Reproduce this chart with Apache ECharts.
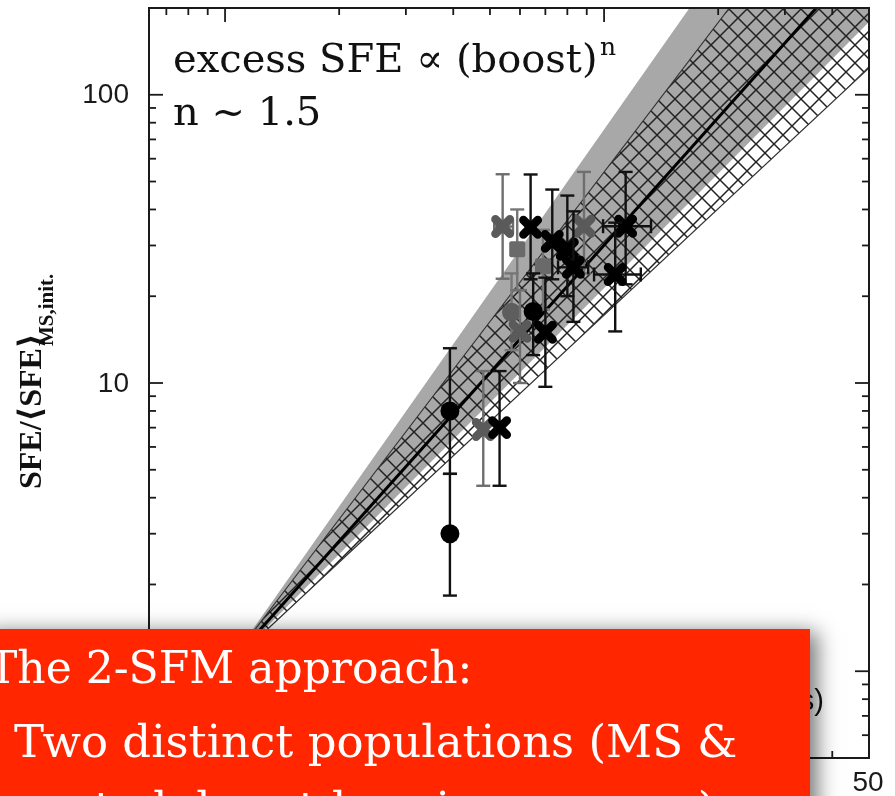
<!DOCTYPE html>
<html>
<head>
<meta charset="utf-8">
<script src="https://cdn.jsdelivr.net/npm/echarts@6/dist/echarts.min.js"></script>
<style>
  html, body { margin: 0; padding: 0; background: #ffffff; }
  #chart { width: 895px; height: 796px; }
</style>
</head>
<body>
<div id="chart"></div>
<script>
// ---- axis extents and ticks (log-log) ----
const xRange = [0.63, 50];
const yRange = [0.5, 200];
const xMajorTicks = [1, 10];
const xMinorTicks = [0.7, 0.8, 0.9, 2, 3, 4, 5, 6, 7, 8, 9, 20, 30, 40];
const xTickLabels = [[1, '1'], [10, '10'], [50, '50']];
const yMajorTicks = [1, 10, 100];
const yMinorTicks = [0.6, 0.7, 0.8, 0.9, 2, 3, 4, 5, 6, 7, 8, 9, 20, 30, 40, 50, 60, 70, 80, 90];
const yTickLabels = [[1, '1'], [10, '10'], [100, '100']];

// ---- power-law model: best fit and envelopes, as vertices in data units ----
const fitLine = [[1, 1.02], [36.3, 200]];
const hatchBand = [[1, 1.02], [21.4, 200], [50, 200], [50, 124]];
const grayBand = [[1, 1.02], [16.8, 200], [50, 200], [50, 179]];

// ---- galaxies: [boost, SFE ratio, yLow, yHigh, xLow, xHigh]  (0 = no bar) ----
const grayCrosses = [
  [5.4, 34.9, 23.0, 53.0, 5.13, 5.75],
  [8.85, 35.0, 24.0, 54.0, 0, 0],
  [6.0, 15.1, 10.0, 21.0, 0, 0],
  [4.8, 6.9, 4.4, 11.0, 0, 0]
];
const graySquares = [
  [5.9, 29.1, 21.0, 40.0, 0, 0],
  [6.9, 25.4, 18.0, 34.0, 0, 0]
];
const grayDots = [
  [5.7, 17.6, 13.0, 24.0, 0, 0]
];
const blackCrosses = [
  [5.3, 7.0, 4.4, 11.0, 0, 0],
  [6.4, 34.7, 22.9, 52.9, 0, 0],
  [7.3, 31.0, 22.9, 46.9, 0, 0],
  [8.0, 29.1, 20.0, 44.7, 0, 0],
  [8.3, 25.2, 16.3, 39.4, 7.56, 9.08],
  [11.4, 35.0, 22.0, 54.0, 9.94, 13.3],
  [10.7, 23.8, 15.1, 36.0, 9.41, 12.5],
  [7.0, 15.0, 9.7, 23.2, 0, 0]
];
const blackDots = [
  [3.92, 8.0, 4.84, 13.2, 0, 0],
  [3.92, 3.0, 1.83, 4.84, 0, 0],
  [6.5, 17.7, 12.5, 24.0, 0, 0]
];

// cross-hatch tile for the envelope of the fit
function makeHatch(s) {
  const c = document.createElement('canvas');
  c.width = s; c.height = s;
  const g = c.getContext('2d');
  g.strokeStyle = '#222222';
  g.lineWidth = 1.5;
  g.beginPath();
  g.moveTo(-1, -1); g.lineTo(s + 1, s + 1);
  g.moveTo(s + 1, -1); g.lineTo(-1, s + 1);
  g.moveTo(-2, 2); g.lineTo(2, -2);
  g.moveTo(s - 2, s + 2); g.lineTo(s + 2, s - 2);
  g.moveTo(s - 2, -2); g.lineTo(s + 2, 2);
  g.moveTo(-2, s - 2); g.lineTo(2, s + 2);
  g.stroke();
  return c;
}
const hatchTile = makeHatch(18);

function polygonRenderer(verts, style) {
  return function (params, api) {
    return { type: 'polygon', shape: { points: verts.map(v => api.coord(v)) }, style: style };
  };
}

function pointRenderer(color, barColor, shape) {
  return function (params, api) {
    const x = api.value(0), y = api.value(1);
    const yLo = api.value(2), yHi = api.value(3), xLo = api.value(4), xHi = api.value(5);
    const c = api.coord([x, y]);
    const kids = [];
    const bar = { stroke: barColor, lineWidth: 2.4 };
    const cap = 7;
    if (yLo > 0) {
      const a = api.coord([x, yLo]), b = api.coord([x, yHi]);
      kids.push({ type: 'line', shape: { x1: a[0], y1: a[1], x2: b[0], y2: b[1] }, style: bar });
      kids.push({ type: 'line', shape: { x1: a[0] - cap, y1: a[1], x2: a[0] + cap, y2: a[1] }, style: bar });
      kids.push({ type: 'line', shape: { x1: b[0] - cap, y1: b[1], x2: b[0] + cap, y2: b[1] }, style: bar });
    }
    if (xLo > 0) {
      const a = api.coord([xLo, y]), b = api.coord([xHi, y]);
      kids.push({ type: 'line', shape: { x1: a[0], y1: a[1], x2: b[0], y2: b[1] }, style: bar });
      kids.push({ type: 'line', shape: { x1: a[0], y1: a[1] - cap, x2: a[0], y2: a[1] + cap }, style: bar });
      kids.push({ type: 'line', shape: { x1: b[0], y1: b[1] - cap, x2: b[0], y2: b[1] + cap }, style: bar });
    }
    if (shape === 'cross') {
      const d = 7.2;
      const st = { stroke: color, lineWidth: 8.5, lineCap: 'round' };
      kids.push({ type: 'line', shape: { x1: c[0] - d, y1: c[1] - d, x2: c[0] + d, y2: c[1] + d }, style: st });
      kids.push({ type: 'line', shape: { x1: c[0] - d, y1: c[1] + d, x2: c[0] + d, y2: c[1] - d }, style: st });
    } else if (shape === 'square') {
      kids.push({ type: 'rect', shape: { x: c[0] - 8, y: c[1] - 8, width: 16, height: 16, r: 2 }, style: { fill: color } });
    } else {
      kids.push({ type: 'circle', shape: { cx: c[0], cy: c[1], r: 9.5 }, style: { fill: color } });
    }
    return { type: 'group', children: kids };
  };
}

function axesRenderer(params, api) {
  const kids = [];
  const bl = api.coord([xRange[0], yRange[0]]);
  const tr = api.coord([xRange[1], yRange[1]]);
  const tickStyle = { stroke: '#1a1a1a', lineWidth: 1.8 };
  const major = 14, minor = 7;
  function yTick(v, len) {
    const py = api.coord([xRange[0], v])[1];
    kids.push({ type: 'line', shape: { x1: bl[0], y1: py, x2: bl[0] + len, y2: py }, style: tickStyle });
    kids.push({ type: 'line', shape: { x1: tr[0], y1: py, x2: tr[0] - len, y2: py }, style: tickStyle });
  }
  function xTick(v, len) {
    const px = api.coord([v, yRange[0]])[0];
    kids.push({ type: 'line', shape: { x1: px, y1: bl[1], x2: px, y2: bl[1] - len }, style: tickStyle });
    kids.push({ type: 'line', shape: { x1: px, y1: tr[1], x2: px, y2: tr[1] + len }, style: tickStyle });
  }
  yMajorTicks.forEach(v => yTick(v, major));
  yMinorTicks.forEach(v => yTick(v, minor));
  xMajorTicks.forEach(v => xTick(v, major));
  xMinorTicks.forEach(v => xTick(v, minor));
  kids.push({ type: 'rect', shape: { x: bl[0], y: tr[1], width: tr[0] - bl[0], height: bl[1] - tr[1] },
              style: { fill: 'none', stroke: '#1a1a1a', lineWidth: 2 } });
  const labelFont = '28px "Liberation Sans", Arial, sans-serif';
  yTickLabels.forEach(([v, t]) => {
    const py = api.coord([xRange[0], v])[1];
    kids.push({ type: 'text', style: { text: t, x: bl[0] - 20, y: py + 1, font: labelFont, fill: '#1a1a1a',
                align: 'right', verticalAlign: 'middle' } });
  });
  xTickLabels.forEach(([v, t]) => {
    const px = api.coord([v, yRange[0]])[0];
    kids.push({ type: 'text', style: { text: t, x: px - 1, y: bl[1] + 25, font: labelFont, fill: '#1a1a1a',
                align: 'center', verticalAlign: 'middle' } });
  });
  return { type: 'group', children: kids };
}

const typeFont = '"DejaVu Serif", "Liberation Serif", serif';
const chart = echarts.init(document.getElementById('chart'), null, { renderer: 'canvas' });
chart.setOption({
  animation: false,
  backgroundColor: '#ffffff',
  grid: { left: 149, right: 26, top: 8, bottom: 38, containLabel: false },
  xAxis: { type: 'log', logBase: 10, min: xRange[0], max: xRange[1],
           axisLine: { show: false }, axisTick: { show: false }, axisLabel: { show: false }, splitLine: { show: false } },
  yAxis: { type: 'log', logBase: 10, min: yRange[0], max: yRange[1],
           axisLine: { show: false }, axisTick: { show: false }, axisLabel: { show: false }, splitLine: { show: false } },
  series: [
    { type: 'custom', name: 'gray envelope', z: 1, clip: true, data: [[1, 1]],
      renderItem: polygonRenderer(grayBand, { fill: '#a8a8a8' }) },
    { type: 'custom', name: 'hatched envelope', z: 2, clip: true, data: [[1, 1]],
      renderItem: polygonRenderer(hatchBand, { fill: { image: hatchTile, repeat: 'repeat' }, stroke: '#333', lineWidth: 1.2 }) },
    { type: 'custom', name: 'fit', z: 3, clip: true, data: [[1, 1]],
      renderItem: function (params, api) {
        return { type: 'polyline', shape: { points: fitLine.map(v => api.coord(v)) },
                 style: { stroke: '#000', lineWidth: 3, fill: 'none' } };
      } },
    { type: 'custom', name: 'gray squares', z: 4, data: graySquares, renderItem: pointRenderer('#6a6a6a', '#777', 'square') },
    { type: 'custom', name: 'gray dots', z: 4, data: grayDots, renderItem: pointRenderer('#5e5e5e', '#777', 'dot') },
    { type: 'custom', name: 'gray crosses', z: 4, data: grayCrosses, renderItem: pointRenderer('#5a5a5a', '#6e6e6e', 'cross') },
    { type: 'custom', name: 'black dots', z: 5, data: blackDots, renderItem: pointRenderer('#000', '#111', 'dot') },
    { type: 'custom', name: 'black crosses', z: 5, data: blackCrosses, renderItem: pointRenderer('#000', '#111', 'cross') },
    { type: 'custom', name: 'axes', z: 10, data: [[1, 1]], renderItem: axesRenderer }
  ],
  graphic: [
    { type: 'text', z: 20, x: 173, y: 62,
      style: { text: 'excess SFE \u221d (boost)', font: '40px ' + typeFont, fill: '#111', align: 'left', verticalAlign: 'middle' } },
    { type: 'text', z: 20, x: 600, y: 48,
      style: { text: 'n', font: '25px ' + typeFont, fill: '#111', align: 'left', verticalAlign: 'middle' } },
    { type: 'text', z: 20, x: 173, y: 115,
      style: { text: 'n ~ 1.5', font: '40px ' + typeFont, fill: '#111', align: 'left', verticalAlign: 'middle' } },
    { type: 'text', z: 20, x: 33, y: 489, rotation: Math.PI / 2,
      style: { text: 'SFE/\u27e8SFE\u27e9', font: 'bold 32px "Liberation Serif", "DejaVu Serif", serif', fill: '#111',
               align: 'left', verticalAlign: 'middle' } },
    { type: 'text', z: 20, x: 48, y: 346, rotation: Math.PI / 2,
      style: { text: 'MS,init.', font: 'bold 21px "Liberation Serif", "DejaVu Serif", serif', fill: '#111',
               align: 'left', verticalAlign: 'middle' } },
    { type: 'text', z: 20, x: 824, y: 702,
      style: { text: '(SMGs)', font: '29px "Liberation Sans", Arial, sans-serif', fill: '#111', align: 'right', verticalAlign: 'middle' } },
    { type: 'rect', z: 100, shape: { x: -20, y: 629, width: 830, height: 220 },
      style: { fill: '#ff2600', shadowBlur: 20, shadowOffsetX: 7, shadowOffsetY: 3, shadowColor: 'rgba(0,0,0,0.55)' } },
    { type: 'text', z: 101, x: -12, y: 672,
      style: { text: 'The 2-SFM approach:', font: '44px ' + typeFont, fill: '#ffffff', align: 'left', verticalAlign: 'middle' } },
    { type: 'text', z: 101, x: 14, y: 745,
      style: { text: 'Two distinct populations (MS &', font: '45px ' + typeFont, fill: '#ffffff', align: 'left', verticalAlign: 'middle' } },
    { type: 'text', z: 101, x: -12, y: 812,
      style: { text: 'boosted, burst-bearing sources)', font: '45px ' + typeFont, fill: '#ffffff', align: 'left', verticalAlign: 'middle' } }
  ]
});
</script>
</body>
</html>
